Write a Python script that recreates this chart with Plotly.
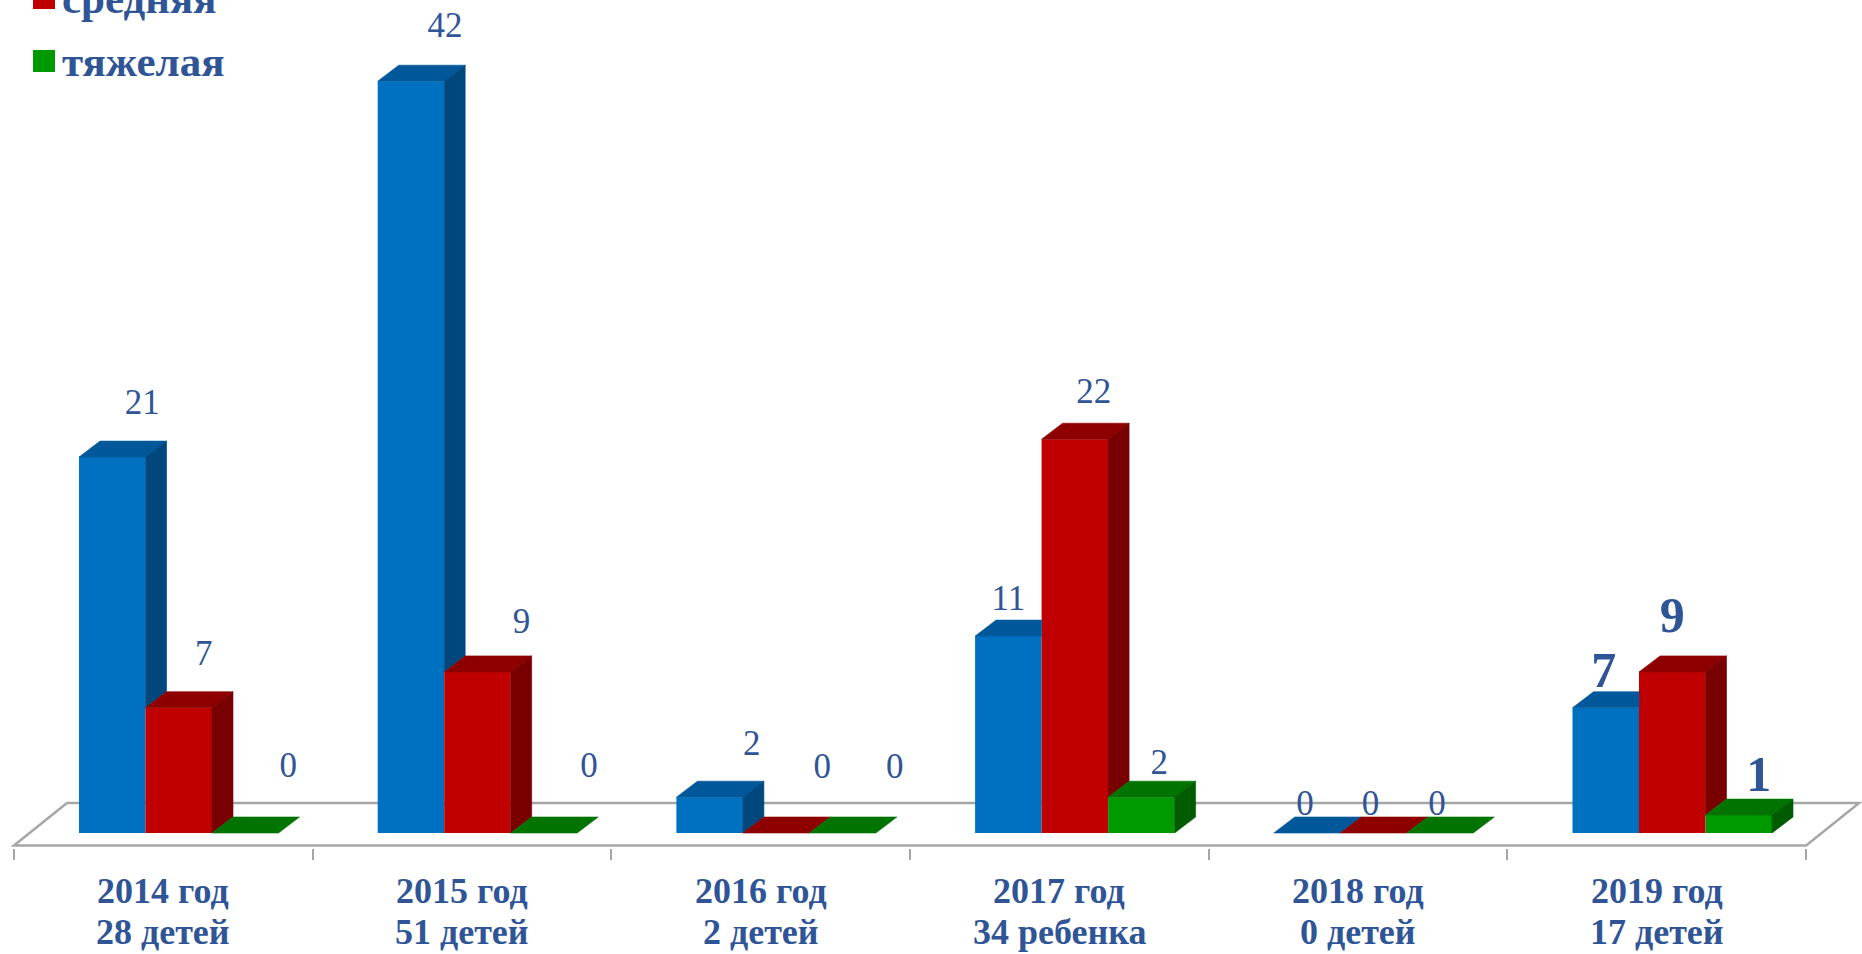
import plotly.graph_objects as go

# ---------------- data ----------------
years = ["2014 год", "2015 год", "2016 год", "2017 год", "2018 год", "2019 год"]
totals = ["28 детей", "51 детей", "2 детей", "34 ребенка", "0 детей", "17 детей"]
series_names = ["легкая", "средняя", "тяжелая"]
light = [21, 42, 2, 11, 0, 7]
medium = [7, 9, 0, 22, 0, 9]
severe = [0, 0, 0, 2, 0, 1]
series_values = [light, medium, severe]

# ---------------- style ----------------
W, H = 1862, 954
MB = 106                      # bottom margin (px)
PLOT_H = H - MB
ZERO_PX = 833                 # pixel row of value 0
PX_Y = 17.9                   # px per value unit
PX_X = 298.7                  # px per category
CAT0_PX = 163.3               # px of first category centre

FRONT = ["#0070C0", "#C00000", "#009A00"]
TOP = ["#00589A", "#8E0000", "#007300"]
SIDE = ["#00477E", "#790000", "#005C00"]
TXT = "#2F5597"
SERIF = "Liberation Serif, Times New Roman, serif"

BAR_W = 66.5 / PX_X
FIRST_LEFT = -84.3 / PX_X
DX = 21 / PX_X
DY = 16 / PX_Y

# label offsets (px) relative to front centre / back top
LABEL_DX_PX = [[30, 34, 42, 0, -2, -2],
               [25, 44, 46, 19, -3, 0],
               [43, 45, 52, 18, -3, 20]]
LABEL_DY_PX = [[40, 41, 39, 23, 15, 23],
               [39, 36, 52, 33, 15, 42],
               [53, 53, 52, 20, 15, 27]]
BOLD_CAT = 5
REG_SIZE, BOLD_SIZE = 35, 50
REG_BIAS, BOLD_BIAS = 4, 6    # glyphs sit above text-box centre

y_top = ZERO_PX / PX_Y
y_bot = -(PLOT_H - ZERO_PX) / PX_Y
x_left = -CAT0_PX / PX_X
x_right = x_left + W / PX_X


def py2paper(py):
    return (PLOT_H - py) / PLOT_H


fig = go.Figure()
n = len(years)
ns = len(series_values)

# front faces
for k, vals in enumerate(series_values):
    xs = [i + FIRST_LEFT + BAR_W * (k + 0.5) for i in range(n)]
    fig.add_trace(go.Bar(x=xs, y=vals, width=BAR_W, name=series_names[k],
                         marker=dict(color=FRONT[k], line=dict(width=0)),
                         showlegend=False, hoverinfo="skip"))

# top and side faces (hidden parts behind the next bar's front are cut away)
for k, vals in enumerate(series_values):
    tx, ty, sx, sy = [], [], [], []
    for i, v in enumerate(vals):
        xl = i + FIRST_LEFT + BAR_W * k
        xr = xl + BAR_W
        nxt = 0 if k == ns - 1 else series_values[k + 1][i]
        if nxt >= v + DY:
            px = [xl, xl + DX, xr, xr, xl]
            py = [v, v + DY, v + DY, v, v]
        elif nxt > v:
            xc = xr + (nxt - v) / DY * DX
            px = [xl, xl + DX, xr + DX, xc, xr, xr, xl]
            py = [v, v + DY, v + DY, nxt, nxt, v, v]
        else:
            px = [xl, xl + DX, xr + DX, xr, xl]
            py = [v, v + DY, v + DY, v, v]
        tx += px + [None]
        ty += py + [None]
        if v > nxt:
            sx += [xr, xr + DX, xr + DX, xr, xr, None]
            sy += [nxt, nxt + DY, v + DY, v, nxt, None]
    fig.add_trace(go.Scatter(x=tx, y=ty, mode="lines", fill="toself",
                             fillcolor=TOP[k], line=dict(color=TOP[k], width=0.6),
                             showlegend=False, hoverinfo="skip"))
    if sx:
        fig.add_trace(go.Scatter(x=sx, y=sy, mode="lines", fill="toself",
                                 fillcolor=SIDE[k], line=dict(color=SIDE[k], width=0.6),
                                 showlegend=False, hoverinfo="skip"))

# data labels
for k, vals in enumerate(series_values):
    lx, ly, lt, ls = [], [], [], []
    for i, v in enumerate(vals):
        xc = i + FIRST_LEFT + BAR_W * (k + 0.5)
        bold = i == BOLD_CAT
        bias = BOLD_BIAS if bold else REG_BIAS
        lx.append(xc + LABEL_DX_PX[k][i] / PX_X)
        ly.append(v + DY + (LABEL_DY_PX[k][i] - bias) / PX_Y)
        lt.append(f"<b>{v}</b>" if bold else str(v))
        ls.append(BOLD_SIZE if bold else REG_SIZE)
    fig.add_trace(go.Scatter(x=lx, y=ly, mode="text", text=lt,
                             textposition="middle center",
                             textfont=dict(family=SERIF, size=ls, color=TXT),
                             cliponaxis=False, showlegend=False, hoverinfo="skip"))

# floor
f_front = -12.5 / PX_Y
f_back = 30 / PX_Y
f_dx = 53 / PX_X
xa, xb = -0.5, n - 0.5
floor_path = (f"M {xa},{f_front} L {xb},{f_front} L {xb + f_dx},{f_back} "
              f"L {xa + f_dx},{f_back} Z")
fig.add_shape(type="path", path=floor_path, xref="x", yref="y", layer="below",
              fillcolor="white", line=dict(color="#A6A6A6", width=2.5))

# category labels (two lines)
for i in range(n):
    fig.add_annotation(x=i, y=py2paper(891), xref="x", yref="paper",
                       xanchor="center", yanchor="middle", showarrow=False,
                       text=f"<b>{years[i]}</b>",
                       font=dict(family=SERIF, size=36, color=TXT))
    fig.add_annotation(x=i, y=py2paper(932), xref="x", yref="paper",
                       xanchor="center", yanchor="middle", showarrow=False,
                       text=f"<b>{totals[i]}</b>",
                       font=dict(family=SERIF, size=36, color=TXT))

# manual legend (first entry falls above the visible area, as in the picture)
LEG_Y = [-66, -2, 61]
for k in range(3):
    cy = LEG_Y[k]
    fig.add_shape(type="rect", xref="paper", yref="paper",
                  x0=33 / W, x1=55 / W, y0=py2paper(cy + 11), y1=py2paper(cy - 11),
                  fillcolor=FRONT[k], line=dict(width=0))
    if cy > -30:
        fig.add_annotation(x=60 / W, y=py2paper(cy), xref="paper", yref="paper",
                           xanchor="left", yanchor="middle", showarrow=False,
                           text=f"<b>{series_names[k]}</b>",
                           font=dict(family=SERIF, size=43, color=TXT))

fig.update_layout(
    width=W, height=H,
    margin=dict(l=0, r=0, t=0, b=MB, autoexpand=False),
    paper_bgcolor="white", plot_bgcolor="white",
    barmode="overlay", showlegend=False,
    xaxis=dict(range=[x_left, x_right], showticklabels=False,
               tickmode="array", tickvals=list(range(n)), ticks="",
               showgrid=False, zeroline=False, showline=False,
               minor=dict(tickmode="linear", tick0=-0.5, dtick=1, ticks="outside",
                          ticklen=11, tickwidth=2, tickcolor="#A6A6A6",
                          showgrid=False)),
    yaxis=dict(range=[y_bot, y_top], visible=False, showgrid=False, zeroline=False),
)

fig.write_html("out.html",
               config={"displayModeBar": False},
               post_script="document.body.style.margin='0';"
                           "document.body.style.overflow='hidden';")
